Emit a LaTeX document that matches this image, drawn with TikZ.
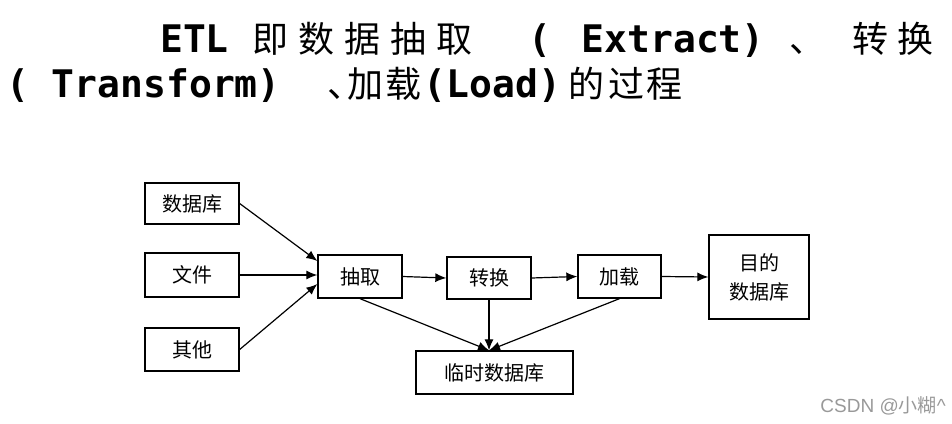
\documentclass[tikz,border=0pt]{standalone}
\usepackage{fontspec}
\setmainfont{Noto Sans CJK SC}
\newfontfamily\monofont{DejaVu Sans Mono}
\newfontfamily\arialfont{Liberation Sans}
\usetikzlibrary{arrows.meta}

\tikzset{
  box/.style={draw,line width=1.3pt,inner sep=0pt,align=center,
    font=\fontsize{20}{29}\selectfont},
  arr/.style={line width=1.2pt,-{Latex[length=11pt,width=9pt]}},
  titleline/.style={anchor=base west,inner sep=0pt,font=\fontsize{36}{40}\selectfont},
}
\newcommand{\latin}[1]{{\fontsize{38}{40}\selectfont\monofont\bfseries #1}}

\begin{document}
\begin{tikzpicture}[x=1pt,y=-1pt]
  \useasboundingbox (0,0) rectangle (952,423);

  %title
  \node[titleline] (title1) at (160,52)
    {\latin{ETL}\hspace{24pt}即\hspace{10pt}数\hspace{10pt}据\hspace{10pt}抽\hspace{10pt}取\hspace{56pt}\latin{(\hspace{30pt}Extract)}\hspace{25pt}、\hspace{27pt}转\hspace{9pt}换};
  \node[titleline] (title2) at (6,97)
    {\latin{( Transform)}\hspace{47pt}、\hspace{-16pt}加\hspace{2pt}载\hspace{2pt}\latin{(Load)}\hspace{7pt}的\hspace{4pt}过\hspace{3pt}程};

  %sources
  \node[box,minimum width=94pt,minimum height=41pt] (db) at (192,203.5) {数据库};
  \node[box,minimum width=94pt,minimum height=44pt] (file) at (192,275) {文件};
  \node[box,minimum width=94pt,minimum height=43pt] (other) at (192,349.5) {其他};

  %steps
  \node[box,minimum width=84pt,minimum height=43pt] (extract) at (360,276.5) {抽取};
  \node[box,minimum width=84pt,minimum height=42pt] (transform) at (489,278) {转换};
  \node[box,minimum width=83pt,minimum height=43pt] (load) at (619.5,276.5) {加载};
  \node[box,minimum width=100pt,minimum height=84pt] (target) at (759,277) {目的\\数据库};
  \node[box,minimum width=157pt,minimum height=43pt] (tmp) at (494.5,372.5) {临时数据库};

  %arrows
  \draw[arr] (db.east) -- (extract.160);
  \draw[arr] (file.east) -- (extract.west |- file.east);
  \draw[arr] (other.east) -- (extract.190);
  \draw[arr] (extract.east) -- (transform.west);
  \draw[arr] (transform.east) -- (load.west);
  \draw[arr] (load.east) -- (target.west);

  \coordinate (tmpin) at (tmp.north -| transform.south);
  \draw[arr] (extract.south) -- (tmpin);
  \draw[arr] (transform.south) -- (tmpin);
  \draw[arr] (load.south) -- (tmpin);

  %watermark
  \node[anchor=base east,inner sep=0pt,text=black!40,font=\fontsize{19}{22}\selectfont] (mark) at (946,412) {{\arialfont CSDN @}小糊{\arialfont\^{}}};
\end{tikzpicture}
\end{document}
